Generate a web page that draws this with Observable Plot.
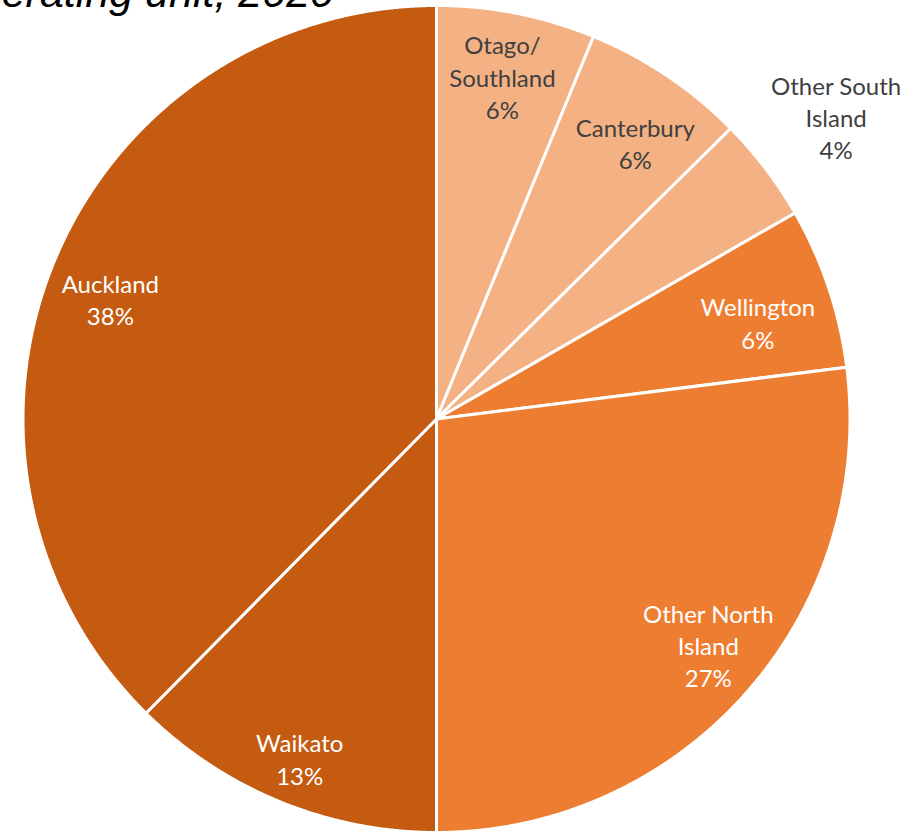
<!DOCTYPE html>
<html>
<head>
<meta charset="utf-8">
<script src="https://cdn.jsdelivr.net/npm/d3@7"></script>
<script src="https://cdn.jsdelivr.net/npm/@observablehq/plot@0.6"></script>
<style>
  html, body { margin: 0; padding: 0; background: #fff; overflow: hidden; }
  #wrap { position: relative; width: 924px; height: 832px; overflow: hidden; }
  #title { position: absolute; right: calc(924px - 334px); top: -29px; white-space: nowrap; line-height: 1;
           font-family: "Liberation Sans", Arial, sans-serif; font-style: italic; font-size: 43px; color: #000; }
  #chart { position: absolute; left: 0; top: 0; }
</style>
</head>
<body>
<div id="wrap"><div id="chart"></div><div id="title">operating unit, 2020</div></div>
<script>
// Data (clockwise from 12 o'clock)
const regions = ["Otago/\nSouthland", "Canterbury", "Other South\nIsland", "Wellington", "Other North\nIsland", "Waikato", "Auckland"];
const shares = [6.2, 6.4, 4.1, 6.3, 27.0, 12.4, 37.6];
const pctLabels = ["6%", "6%", "4%", "6%", "27%", "13%", "38%"];
const sliceColors = ["#F4B183", "#F4B183", "#F4B183", "#ED7D31", "#ED7D31", "#C55A11", "#C55A11"];
const labelColors = ["#404040", "#404040", "#404040", "#FFFFFF", "#FFFFFF", "#FFFFFF", "#FFFFFF"];

// label layout: radial distance (fraction of radius) and angle nudge (degrees) from slice mid-angle
const labelRadius = [0.838, 0.819, 1.208, 0.810, 0.858, 0.890, 0.839];
const labelNudge = [-0.2, 2.1, 0.4, 2.2, -1.4, -0.5, -2.4];

const arcs = d3.pie().sort(null).value(d => d)(shares);
const pt = (a, r) => [r * Math.sin(a), r * Math.cos(a)];

const slices = arcs.map((a, i) => {
  const ring = [[0, 0]];
  const n = Math.max(8, Math.ceil((a.endAngle - a.startAngle) / 0.004));
  for (let k = 0; k <= n; k++) ring.push(pt(a.startAngle + (a.endAngle - a.startAngle) * k / n, 1));
  ring.push([0, 0]);
  const mid = (a.startAngle + a.endAngle) / 2 + labelNudge[i] * Math.PI / 180;
  const [lx, ly] = pt(mid, labelRadius[i]);
  return {
    type: "Feature",
    geometry: {type: "Polygon", coordinates: [ring]},
    properties: {region: regions[i], color: sliceColors[i], textColor: labelColors[i],
                 label: regions[i] + "\n" + pctLabels[i], lx, ly}
  };
});

const chart = Plot.plot({
  width: 924,
  height: 832,
  marginLeft: 22,
  marginRight: 74,
  marginTop: 5,
  marginBottom: 0,
  projection: {type: "reflect-y", domain: {type: "MultiPoint", coordinates: [[-1, -1], [1, 1]]}},
  color: {type: "identity"},
  style: {fontFamily: "Lato, 'Noto Sans', sans-serif", background: "white"},
  marks: [
    Plot.geo(slices, {fill: d => d.properties.color, stroke: "white", strokeWidth: 3, strokeLinejoin: "round"}),
    Plot.text(slices, {
      x: d => d.properties.lx, y: d => d.properties.ly,
      text: d => d.properties.label,
      fill: d => d.properties.textColor,
      fontSize: 24, lineHeight: 1.34, textAnchor: "middle", dy: -2.5
    })
  ]
});
document.getElementById("chart").appendChild(chart);
</script>
</body>
</html>
